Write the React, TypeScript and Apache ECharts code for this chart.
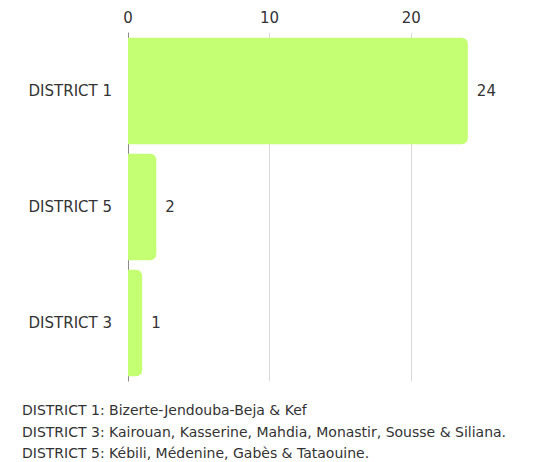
import React, { useEffect, useRef } from "react";
import * as echarts from "echarts";

const categories = ["DISTRICT 1", "DISTRICT 5", "DISTRICT 3"];
const values = [24, 2, 1];
const xTicks = [0, 10, 20];
const notes = [
  "DISTRICT 1: Bizerte-Jendouba-Beja & Kef",
  "DISTRICT 3: Kairouan, Kasserine, Mahdia, Monastir, Sousse & Siliana.",
  "DISTRICT 5: Kébili, Médenine, Gabès & Tataouine.",
];

const FONT = "'DejaVu Sans', sans-serif";

export default function App() {
  const ref = useRef<HTMLDivElement>(null);
  useEffect(() => {
    if (!ref.current) return;
    const chart = echarts.init(ref.current, null, { renderer: "svg" });
    chart.setOption({
      animation: false,
      backgroundColor: "#ffffff",
      textStyle: { fontFamily: FONT },
      grid: { left: 128, right: 63, top: 33, bottom: 81, containLabel: false },
      xAxis: {
        type: "value",
        position: "top",
        min: 0,
        max: 25,
        interval: 10,
        axisLine: { show: false },
        axisTick: { show: false },
        axisLabel: {
          showMaxLabel: false,
          color: "#333",
          fontSize: 15,
          fontFamily: FONT,
          margin: 8,
          formatter: (v: number) => (xTicks.includes(v) ? String(v) : ""),
        },
        splitLine: { show: true, showMaxLine: false, showMinLine: false, lineStyle: { color: "#d9d9d9", width: 1 } },
      },
      yAxis: {
        type: "category",
        inverse: true,
        data: categories,
        axisLine: { show: true, lineStyle: { color: "#888", width: 1 } },
        axisTick: { show: false },
        axisLabel: { color: "#333", fontSize: 15, fontFamily: FONT, margin: 16 },
      },
      series: [
        {
          type: "bar",
          data: values,
          barCategoryGap: "8%",
          itemStyle: { color: "#c4ff73", borderRadius: [0, 6, 6, 0] },
          label: {
            show: true,
            position: "right",
            distance: 9,
            color: "#333",
            fontSize: 15,
            fontFamily: FONT,
          },
        },
      ],
      graphic: notes.map((t, i) => ({
        type: "text",
        left: 22,
        top: 403 + i * 21.5,
        style: { text: t, fill: "#333", fontSize: 14, fontFamily: FONT },
      })),
    });
    return () => chart.dispose();
  }, []);
  return <div ref={ref} style={{ width: 545, height: 462, position: "absolute", left: 0, top: 0 }} />;
}
